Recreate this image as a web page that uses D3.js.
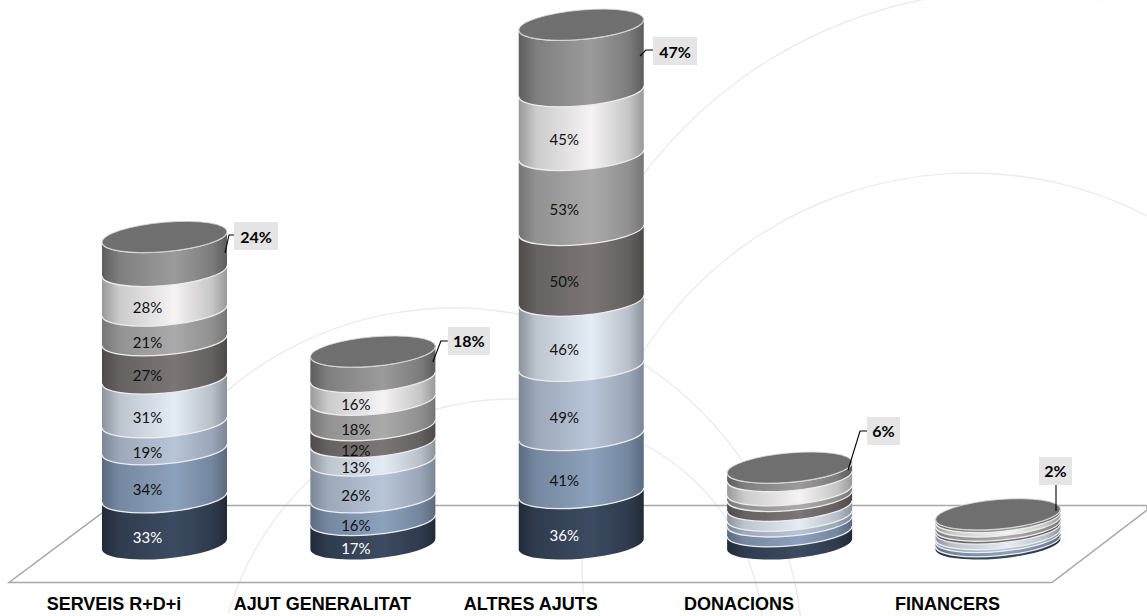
<!DOCTYPE html>
<html>
<head>
<meta charset="utf-8">
<script src="https://cdn.jsdelivr.net/npm/d3@7/dist/d3.min.js"></script>
<style>
html, body { margin: 0; padding: 0; background: #fff; }
svg { display: block; }
.cat { font: bold 18px "Liberation Sans", Arial, sans-serif; fill: #000; text-anchor: middle; }
.val { font: 15px Lato, sans-serif; text-anchor: middle; dominant-baseline: central; }
.callout { font: bold 16px Lato, sans-serif; fill: #000; text-anchor: middle; dominant-baseline: central; }
</style>
</head>
<body>
<div id="chart"></div>
<script>
const categories = ['SERVEIS R+D+i', 'AJUT GENERALITAT', 'ALTRES AJUTS', 'DONACIONS', 'FINANCERS'];

// one array per stacked series, bottom of the cylinder first
const serie1 = [33, 17, 36, 9, 2];
const serie2 = [34, 16, 41, 7, 3];
const serie3 = [19, 26, 49, 4, 2];
const serie4 = [31, 13, 46, 7, 4];
const serie5 = [27, 12, 50, 7, 2];
const serie6 = [21, 18, 53, 4, 3];
const serie7 = [28, 16, 45, 10, 3];
const serie8 = [24, 18, 47, 6, 2];
const series = [serie1, serie2, serie3, serie4, serie5, serie6, serie7, serie8];

// [edge, centre, text] per series
const shades = [
    ['#212a38', '#3c4b61', '#fff'],
    ['#5a6a80', '#8ca1bc', '#111'],
    ['#7b8696', '#b8c5d8', '#111'],
    ['#8c929b', '#e4ecf6', '#111'],
    ['#4e4a4a', '#7b7575', '#111'],
    ['#757575', '#aaaaaa', '#111'],
    ['#999999', '#f5f3f3', '#111'],
    ['#5d5d5d', '#9b9b9b', '#111']
];

// callout box and leader, relative to the centre of the column top
const calloutOffsets = [
    { dx: 69.5, dy: -14.9, w: 44, leader: [[60.5, 16], [64.5, -2], [69.5, -2]] },
    { dx: 75, dy: -24.6, w: 42, leader: [[60, 10.4], [68, -10.6], [75, -10.6]] },
    { dx: 71.75, dy: 12.3, w: 44, leader: [[58.75, 31.3], [64.75, 25.3], [71.75, 25.3]] },
    { dx: 77.4, dy: -50.6, w: 33, leader: [[58.4, 2.4], [70.4, -36.6], [77.4, -36.6]] },
    { dx: 41, dy: -57.3, w: 33, leader: [[58, -3.3], [58, -29.3]] }
];

const width = 1147;
const height = 616;
const radiusX = 62.5;
const radiusY = 14.7;
const tilt = -4.8;
const slope = Math.tan(tilt * Math.PI / 180);
const labelShift = -17;

const svg = d3.select('#chart').append('svg')
    .attr('width', width)
    .attr('height', height);

const x = d3.scalePoint().domain(categories).range([164.5, 998]);
const y = d3.scaleLinear().domain([0, 367]).range([544, 24.7]);

// gradients: dark only close to the edges, wide light middle
const defs = svg.append('defs');
shades.forEach((s, i) => {
    const mix = d3.interpolateRgb(s[0], s[1]);
    const g = defs.append('linearGradient').attr('id', 'shade' + i);
    g.append('stop').attr('offset', '0').attr('stop-color', s[0]);
    g.append('stop').attr('offset', '0.14').attr('stop-color', mix(0.55));
    g.append('stop').attr('offset', '0.58').attr('stop-color', s[1]);
    g.append('stop').attr('offset', '0.88').attr('stop-color', mix(0.5));
    g.append('stop').attr('offset', '1').attr('stop-color', s[0]);
});

// faint rings behind the chart [cx, cy, r, start, end] (degrees, 0 = up)
const rings = [
    [1012, 453, 462, -53, 11.3],
    [970, 561, 388, -95, 27.5],
    [453, 658, 350, -48, 103],
    [513, 695, 296, -74, 3],
    [540, 643, 224, 26, 85]
];
const ringArc = d3.arc();
svg.append('g').selectAll('path')
    .data(rings)
    .enter().append('path')
    .attr('transform', d => `translate(${d[0]},${d[1]})`)
    .attr('d', d => ringArc({
        innerRadius: d[2],
        outerRadius: d[2],
        startAngle: d[3] * Math.PI / 180,
        endAngle: d[4] * Math.PI / 180
    }))
    .attr('fill', 'none')
    .attr('stroke', '#ececec')
    .attr('stroke-width', 1.4);

// floor
svg.append('path')
    .attr('d', d3.line()([[112, 505.5], [1147, 505.5], [1147, 510], [1052, 582.5], [9, 582.5], [112, 505.5]]))
    .attr('fill', 'none')
    .attr('stroke', '#a8a8a8')
    .attr('stroke-width', 1.5);

// cylinders
const frontArc = (t) => `M${-radiusX},${t}A${radiusX},${radiusY} 0 0 0 ${radiusX},${t}`;
const segPath = (top, bot) => frontArc(top) +
    `L${radiusX},${bot}A${radiusX},${radiusY} 0 0 1 ${-radiusX},${bot}Z`;

categories.forEach((cat, c) => {
    const g = svg.append('g')
        .attr('transform', `translate(${x(cat)},${y(0)}) skewY(${tilt})`);
    let sum = 0;
    const stack = series.map((s, i) => {
        const d = { i, v: s[c], low: sum, high: sum + s[c] };
        sum += s[c];
        return d;
    });
    const local = (v) => y(v) - y(0);

    g.selectAll('path.seg')
        .data(stack)
        .enter().append('path')
        .attr('class', 'seg')
        .attr('d', d => segPath(local(d.high), local(d.low)))
        .attr('fill', d => `url(#shade${d.i})`);

    g.selectAll('path.sep')
        .data(stack)
        .enter().append('path')
        .attr('class', 'sep')
        .attr('d', d => frontArc(local(d.high)))
        .attr('fill', 'none')
        .attr('stroke', '#ececec')
        .attr('stroke-width', 1.3);

    g.append('ellipse')
        .attr('cx', 0)
        .attr('cy', local(sum))
        .attr('rx', radiusX)
        .attr('ry', radiusY)
        .attr('fill', '#6f6f6f')
        .attr('stroke', '#dcdcdc')
        .attr('stroke-width', 0.8);

    // value labels only on the three tall columns
    if (c < 3) {
        svg.append('g').selectAll('text')
            .data(stack.slice(0, 7))
            .enter().append('text')
            .attr('class', 'val')
            .attr('x', x(cat) + labelShift)
            .attr('y', d => y((d.low + d.high) / 2) + radiusY + labelShift * slope)
            .attr('fill', d => shades[d.i][2])
            .text(d => d.v + '%');
    }

    // callout for the top series, placed relative to the top of the column
    const cx = x(cat);
    const cy = y(sum);
    const o = calloutOffsets[c];
    svg.append('path')
        .attr('d', d3.line()(o.leader.map(p => [cx + p[0], cy + p[1]])))
        .attr('fill', 'none')
        .attr('stroke', '#000')
        .attr('stroke-width', 1.1);
    svg.append('rect')
        .attr('x', cx + o.dx)
        .attr('y', cy + o.dy)
        .attr('width', o.w)
        .attr('height', 28)
        .attr('fill', '#e5e5e5');
    svg.append('text')
        .attr('class', 'callout')
        .attr('x', cx + o.dx + o.w / 2)
        .attr('y', cy + o.dy + 14)
        .text(serie8[c] + '%');

    svg.append('text')
        .attr('class', 'cat')
        .attr('x', cx - 50.5)
        .attr('y', 610)
        .text(cat);
});
</script>
</body>
</html>
